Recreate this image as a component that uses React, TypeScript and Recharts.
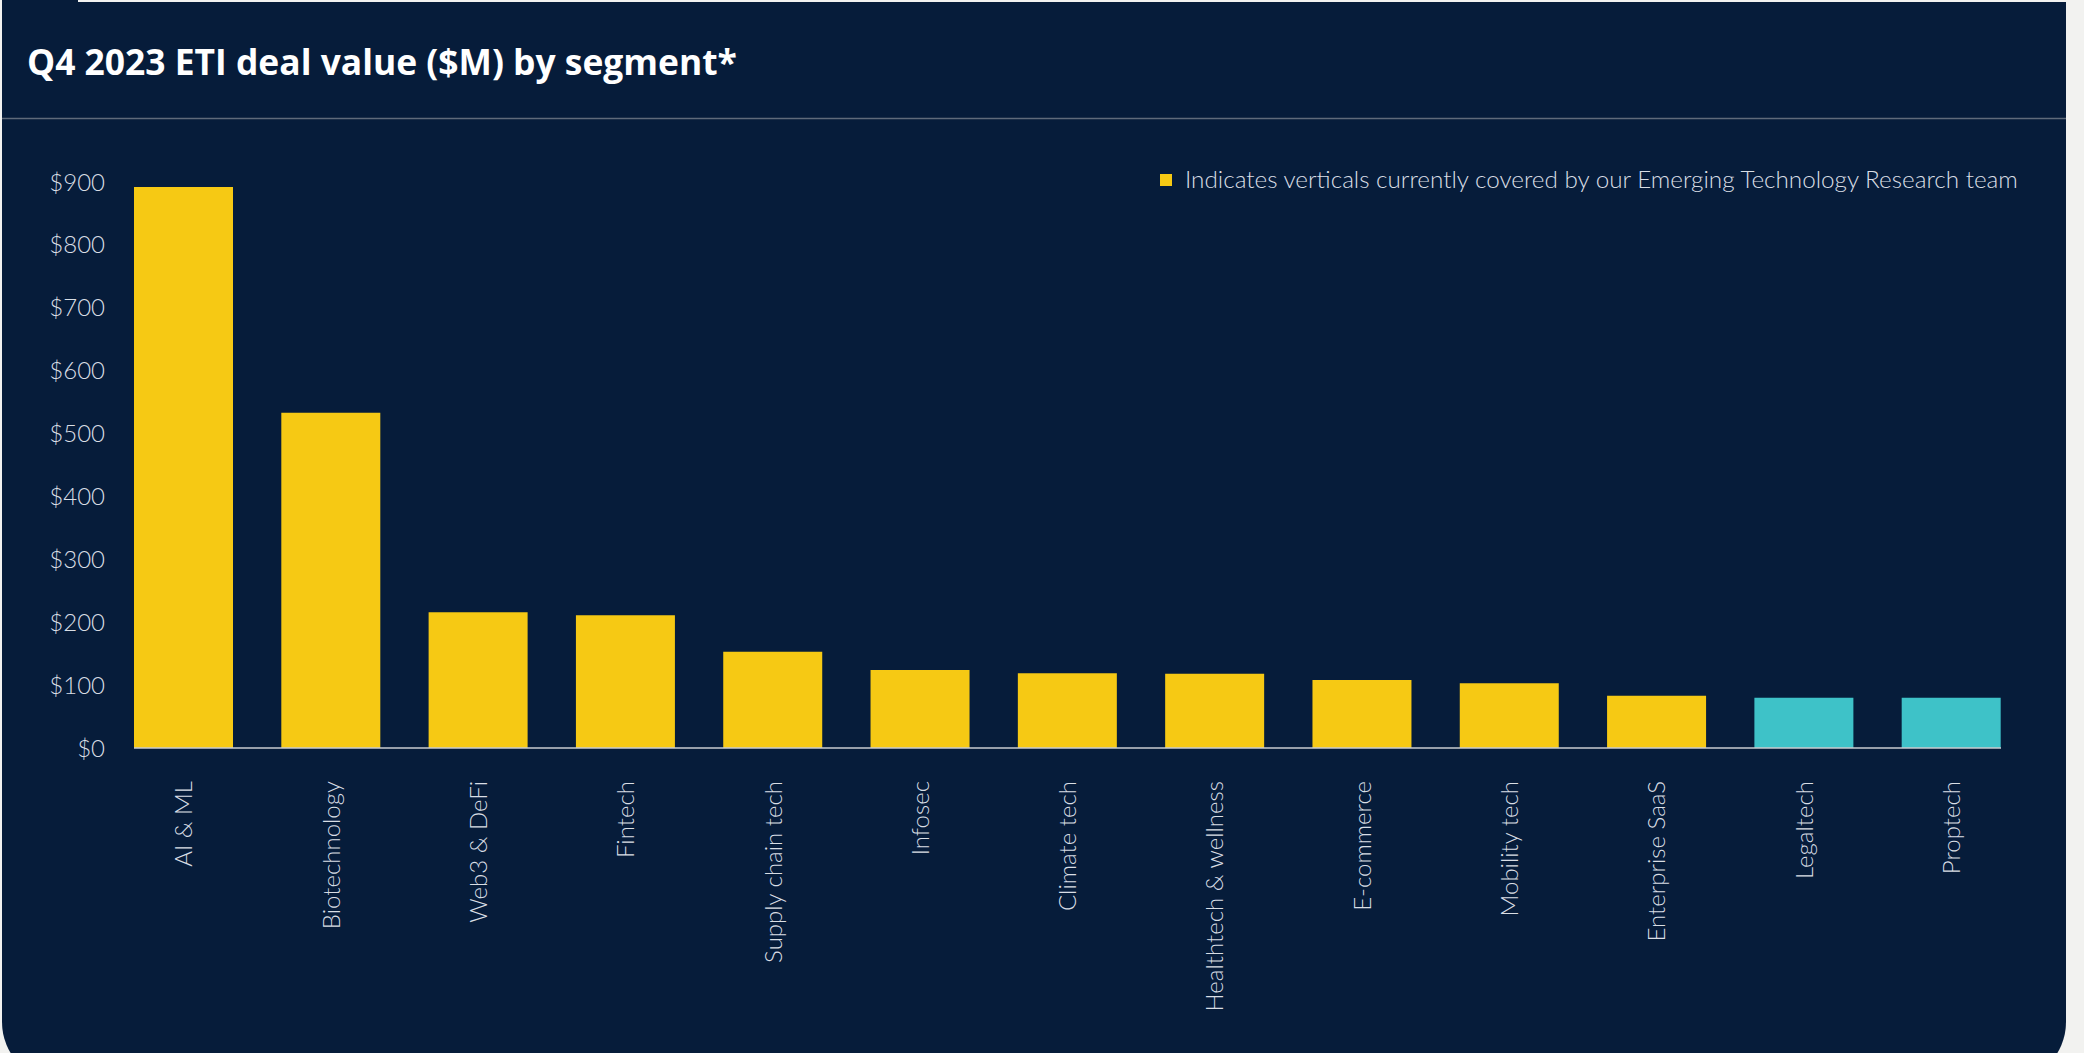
import React from 'react';
import { BarChart, Bar, XAxis, YAxis, Cell } from 'recharts';

const segments = [
  'AI & ML',
  'Biotechnology',
  'Web3 & DeFi',
  'Fintech',
  'Supply chain tech',
  'Infosec',
  'Climate tech',
  'Healthtech & wellness',
  'E-commerce',
  'Mobility tech',
  'Enterprise SaaS',
  'Legaltech',
  'Proptech',
];
const dealValues = [892, 533, 216, 211, 153, 124, 119, 118, 108, 103, 83, 80, 80];
const coveredByResearch = [true, true, true, true, true, true, true, true, true, true, true, false, false];
const yTicks = [0, 100, 200, 300, 400, 500, 600, 700, 800, 900];

const title = 'Q4 2023 ETI deal value ($M) by segment*';
const legendLabel = 'Indicates verticals currently covered by our Emerging Technology Research team';

const NAVY = '#061c3a';
const YELLOW = '#f6c914';
const TEAL = '#3ec2c8';
const TEXT = '#d9dee5';
const LABEL_FONT = 'Lato, "Noto Sans", sans-serif';
const TITLE_FONT = '"Open Sans", "Noto Sans", sans-serif';

const data = segments.map((segment, i) => ({
  segment,
  value: dealValues[i],
  covered: coveredByResearch[i],
}));

const XTick = (props: any) => {
  const { x, y, payload } = props;
  return (
    <text
      x={x}
      y={y}
      dy="0.36em"
      transform={`rotate(-90, ${x}, ${y})`}
      textAnchor="end"
      fill={TEXT}
      fontSize={24}
      fontWeight={300}
      fontFamily={LABEL_FONT}
    >
      {payload.value}
    </text>
  );
};

export default function App() {
  return (
    <div
      style={{
        position: 'absolute',
        left: 0,
        top: 0,
        width: 2084,
        height: 1053,
        background: '#f2f2f0',
        overflow: 'hidden',
      }}
    >
      <div
        style={{
          position: 'absolute',
          left: 2,
          top: 2,
          width: 2064,
          height: 1080,
          background: NAVY,
          borderRadius: '0 0 60px 60px',
        }}
      />
      <div
        style={{
          position: 'absolute',
          left: 2,
          top: 0,
          width: 76,
          height: 4,
          background: NAVY,
        }}
      />
      <svg
        width={2084}
        height={1053}
        style={{ position: 'absolute', left: 0, top: 0 }}
      >
        <text
          x={27}
          y={75}
          fill="#ffffff"
          fontSize={35.4}
          fontWeight={700}
          fontFamily={TITLE_FONT}
        >
          {title}
        </text>
        <line x1={2} x2={2066} y1={118.5} y2={118.5} stroke="#5f6a7a" strokeWidth={1.5} />
        <rect x={1160} y={174} width={12} height={12} fill={YELLOW} />
        <text
          x={1185}
          y={188}
          fill={TEXT}
          fontSize={24.25}
          fontWeight={300}
          fontFamily={LABEL_FONT}
        >
          {legendLabel}
        </text>
      </svg>
      <div style={{ position: 'absolute', left: 0, top: 0 }}>
        <BarChart
          width={2084}
          height={1053}
          data={data}
          margin={{ top: 182, right: 83, bottom: 0, left: 0 }}
          barCategoryGap={24}
        >
          <YAxis
            type="number"
            domain={[0, 900]}
            ticks={yTicks}
            width={134}
            axisLine={false}
            tickLine={false}
            tickSize={0}
            tickMargin={29}
            tickFormatter={(v: number) => `$${v}`}
            tick={{ fill: TEXT, fontSize: 24, fontWeight: 300, fontFamily: LABEL_FONT }}
          />
          <Bar dataKey="value" isAnimationActive={false}>
            {data.map((d, i) => (
              <Cell key={i} fill={d.covered ? YELLOW : TEAL} />
            ))}
          </Bar>
          <XAxis
            dataKey="segment"
            type="category"
            interval={0}
            height={305}
            padding={{ left: -24, right: -24 }}
            axisLine={{ stroke: '#c8cbd0', strokeWidth: 1.5 }}
            tickLine={false}
            tickSize={0}
            tickMargin={33}
            tick={<XTick />}
          />
        </BarChart>
      </div>
    </div>
  );
}
